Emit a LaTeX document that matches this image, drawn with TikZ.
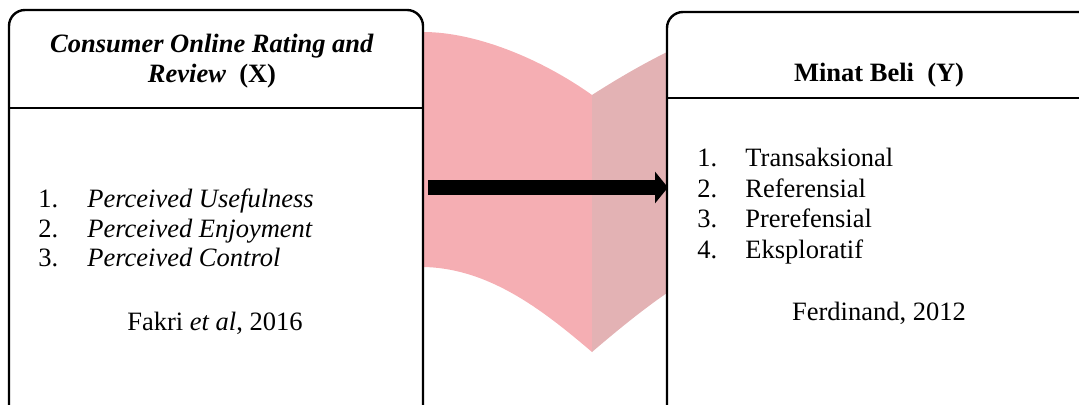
\documentclass[tikz,border=0pt]{standalone}
\usepackage{fontspec}
\setmainfont{Liberation Serif}
\usetikzlibrary{arrows.meta}
\definecolor{ribbonA}{HTML}{F5AEB3}
\definecolor{ribbonB}{HTML}{E3B2B4}
\tikzset{
  boxline/.style={line width=1.2pt, rounded corners=8pt},
  txt/.style={inner sep=0pt, anchor=base west, font=\fontsize{13.25pt}{14.75pt}\selectfont},
  ctxt/.style={inner sep=0pt, anchor=base, font=\fontsize{13.25pt}{14.75pt}\selectfont},
  bigarrow/.style={line width=7.5pt, -{Triangle[length=6.5pt,width=15.5pt]}}
}
\begin{document}
\begin{tikzpicture}[x=0.5pt,y=-0.5pt]
\useasboundingbox (0,0) rectangle (1079,405);
\clip (0,0) rectangle (1079,405);
% ribbon
\fill[ribbonA] (423,32) .. controls (475,32) and (540,58) .. (592,95)
  -- (592,352) .. controls (545,312) and (490,268) .. (423,267) -- cycle;
\fill[ribbonB] (592,95) .. controls (620,77) and (645,63) .. (667,52)
  -- (667,293) .. controls (645,308) and (620,328) .. (592,352) -- cycle;
% left box
\draw[boxline] (9,430) -- (9,10) -- (423,10) -- (423,430);
\draw[line width=1.2pt] (9,108) -- (423,108);
% right box
\draw[boxline] (667,430) -- (667,12) -- (1110,12) -- (1110,430);
\draw[line width=1.2pt] (667,98) -- (1100,98);
% header texts
\node[ctxt] (h1a) at (212,53) {\textbf{\textit{Consumer Online Rating and}}};
\node[ctxt] (h1b) at (212,83) {\textbf{\textit{Review}}\ \ \textbf{(X)}};
\node[ctxt] (h2) at (879,82) {\textbf{Minat Beli\ \ (Y)}};
% left list
\node[txt] (l1n) at (38,208) {1.};
\node[txt] (l1) at (87,208) {\textit{Perceived Usefulness}};
\node[txt] (l2n) at (38,237.5) {2.};
\node[txt] (l2) at (87,237.5) {\textit{Perceived Enjoyment}};
\node[txt] (l3n) at (38,267) {3.};
\node[txt] (l3) at (87,267) {\textit{Perceived Control}};
\node[ctxt] (lsrc) at (215,330) {Fakri \textit{et al}, 2016};
% right list
\node[txt] (r1n) at (697,167) {1.};
\node[txt] (r1) at (745,167) {Transaksional};
\node[txt] (r2n) at (697,197.5) {2.};
\node[txt] (r2) at (745,197.5) {Referensial};
\node[txt] (r3n) at (697,228) {3.};
\node[txt] (r3) at (745,228) {Prerefensial};
\node[txt] (r4n) at (697,258) {4.};
\node[txt] (r4) at (745,258) {Eksploratif};
\node[ctxt] (rsrc) at (879,320) {Ferdinand, 2012};
% arrow
\coordinate (a) at (428,187.5);
\coordinate (b) at (668,187.5);
\draw[bigarrow] (a) -- (b);
\end{tikzpicture}
\end{document}
